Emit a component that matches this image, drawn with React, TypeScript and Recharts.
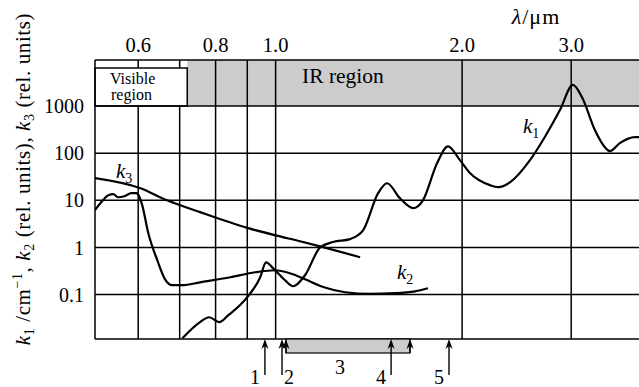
import React from "react";
import {
  LineChart,
  Line,
  XAxis,
  YAxis,
  ReferenceLine,
  ReferenceArea,
} from "recharts";

// wavelength axis (µm), log scale
const lambdaTicks = [0.6, 0.8, 1.0, 2.0, 3.0];
const lambdaGridFull = [0.8, 0.9, 1.0, 2.0, 3.0];
const lambdaGridCut = [0.6, 0.7];
const kTicks = [0.1, 1, 10, 100, 1000];

const visibleEdge = 0.72;
const visibleBoxTop = 6400;

// k1
const k1Lambda = [
  0.707, 0.755, 0.781, 0.811, 0.838, 0.9, 0.944, 0.965, 0.991, 1.036, 1.067,
  1.116, 1.18, 1.238, 1.319, 1.384, 1.463, 1.513, 1.588, 1.667, 1.729, 1.822,
  1.898, 1.984, 2.059, 2.218, 2.285, 2.389, 2.574, 2.72, 2.877, 3.019, 3.122,
  3.276, 3.4, 3.464, 3.594, 3.8, 3.86,
];
const k1Values = [
  0.0118, 0.026, 0.033, 0.026, 0.036, 0.088, 0.23, 0.48, 0.36, 0.2, 0.15, 0.26,
  1.0, 1.3, 1.5, 2.3, 14, 23, 11, 6.8, 10, 61, 140, 71, 38, 21, 19, 24, 71, 220,
  820, 2800, 1550, 310, 134, 110, 163, 219, 219,
];

// k2
const k2Lambda = [
  0.511, 0.523, 0.537, 0.547, 0.557, 0.57, 0.585, 0.596, 0.602, 0.609, 0.623,
  0.644, 0.663, 0.681, 0.707, 0.755, 0.845, 0.927, 1.0, 1.055, 1.116, 1.197,
  1.295, 1.42, 1.559, 1.679, 1.762,
];
const k2Values = [
  6.2, 9.1, 12.8, 13.5, 11.6, 12.2, 14.2, 14.2, 12.2, 7.9, 2.0, 0.54, 0.21,
  0.158, 0.158, 0.182, 0.233, 0.297, 0.328, 0.283, 0.211, 0.143, 0.112, 0.104,
  0.107, 0.117, 0.136,
];

// k3
const k3Lambda = [0.511, 0.605, 0.668, 0.755, 0.9, 1.0, 1.095, 1.197, 1.369];
const k3Values = [29.5, 18, 10, 5.6, 2.6, 1.8, 1.35, 1.0, 0.62];

// marked wavelengths below the frame
const arrowLambdas = [0.961, 1.024, 1.536, 1.905];
const arrowLabels = ["1", "2", "4", "5"];
const band3 = [1.039, 1.648];

const X_DOMAIN = [0.511, 3.86];
const Y_DOMAIN = [0.0114, 9480];
const FONT = '"Liberation Serif", "DejaVu Serif", serif';

const toPoints = (xs: number[], ys: number[]) =>
  xs.map((x, i) => ({ x, y: ys[i] }));

const k1Data = toPoints(k1Lambda, k1Values);
const k2Data = toPoints(k2Lambda, k2Values);
const k3Data = toPoints(k3Lambda, k3Values);

const PLOT = { left: 95, right: 639, top: 60, bottom: 339 };
const xPx = (l: number) =>
  PLOT.left +
  ((Math.log10(l) - Math.log10(X_DOMAIN[0])) /
    (Math.log10(X_DOMAIN[1]) - Math.log10(X_DOMAIN[0]))) *
    (PLOT.right - PLOT.left);

const Arrow = ({ x, y1, y2 }: { x: number; y1: number; y2: number }) => (
  <g>
    <line x1={x} y1={y1 + 4} x2={x} y2={y2} stroke="#000" strokeWidth={1.4} />
    <path
      d={`M${x},${y1} L${x - 3.5},${y1 + 10} L${x},${y1 + 7} L${x + 3.5},${y1 + 10} Z`}
      fill="#000"
    />
  </g>
);

const KLabel = ({ x, y, n }: { x: number; y: number; n: string }) => (
  <text x={x} y={y} fontSize={21} fill="#000">
    <tspan fontStyle="italic">k</tspan>
    <tspan fontSize={14} dy={5}>
      {n}
    </tspan>
  </text>
);

export default function App() {
  const axisStroke = { stroke: "#000", strokeWidth: 1.5 };

  return (
    <div style={{ position: "relative", width: 639, height: 387, background: "#fff" }}>
      <style>{`body{margin:0} svg text, svg tspan{font-family:${FONT} !important}`}</style>
      <LineChart
        width={639}
        height={387}
        margin={{ top: 0, right: 0, bottom: 48, left: 0 }}
        style={{ position: "absolute", left: 0, top: 0 }}
      >
        <XAxis
          type="number"
          dataKey="x"
          scale="log"
          domain={X_DOMAIN}
          allowDataOverflow
          orientation="top"
          height={60}
          ticks={lambdaTicks}
          tickFormatter={(v: number) => v.toFixed(1)}
          tickLine={false}
          tickSize={0}
          tickMargin={8}
          axisLine={axisStroke}
          tick={{ fontSize: 20.5, fill: "#000" }}
        />
        <YAxis
          type="number"
          dataKey="y"
          scale="log"
          domain={Y_DOMAIN}
          allowDataOverflow
          width={95}
          ticks={kTicks}
          tickFormatter={(v: number) => String(v)}
          tickLine={false}
          tickSize={0}
          tickMargin={11}
          axisLine={axisStroke}
          tick={{ fontSize: 20, fill: "#000" }}
        />
        <ReferenceArea
          x1={visibleEdge}
          x2={X_DOMAIN[1]}
          y1={1000}
          y2={Y_DOMAIN[1]}
          fill="#cccccc"
          fillOpacity={1}
          stroke="none"
        />
        <ReferenceArea
          x1={X_DOMAIN[0]}
          x2={visibleEdge}
          y1={1000}
          y2={visibleBoxTop}
          fill="#fff"
          fillOpacity={1}
          stroke="#000"
          strokeWidth={1.5}
        />
        {kTicks.map((v) => (
          <ReferenceLine key={`h${v}`} y={v} stroke="#000" strokeWidth={1.5} />
        ))}
        <ReferenceLine y={Y_DOMAIN[0]} stroke="#000" strokeWidth={1.5} />
        {lambdaGridFull.map((v) => (
          <ReferenceLine key={`v${v}`} x={v} stroke="#000" strokeWidth={1.5} />
        ))}
        {lambdaGridCut.map((v) => (
          <ReferenceLine
            key={`vl${v}`}
            segment={[
              { x: v, y: Y_DOMAIN[0] },
              { x: v, y: 1000 },
            ]}
            stroke="#000"
            strokeWidth={1.5}
          />
        ))}
        {lambdaGridCut.map((v) => (
          <ReferenceLine
            key={`vu${v}`}
            segment={[
              { x: v, y: visibleBoxTop },
              { x: v, y: Y_DOMAIN[1] },
            ]}
            stroke="#000"
            strokeWidth={1.5}
          />
        ))}
        <Line
          data={k3Data}
          dataKey="y"
          type="monotone"
          stroke="#000"
          strokeWidth={2.2}
          dot={false}
          isAnimationActive={false}
        />
        <Line
          data={k2Data}
          dataKey="y"
          type="monotone"
          stroke="#000"
          strokeWidth={2.2}
          dot={false}
          isAnimationActive={false}
        />
        <Line
          data={k1Data}
          dataKey="y"
          type="monotone"
          stroke="#000"
          strokeWidth={2.2}
          dot={false}
          isAnimationActive={false}
        />
      </LineChart>
      <svg
        width={639}
        height={387}
        style={{ position: "absolute", left: 0, top: 0, pointerEvents: "none" }}
      >
        <text x={110} y={84} fontSize={16} fill="#000">
          Visible
        </text>
        <text x={111} y={99.5} fontSize={16} fill="#000">
          region
        </text>
        <text x={302} y={83} fontSize={21.5} fill="#000">
          IR region
        </text>
        <text x={536} y={24} fontSize={22} letterSpacing={1} fill="#000" textAnchor="middle">
          <tspan fontStyle="italic">λ</tspan>/μm
        </text>
        <text
          transform="rotate(-90)"
          x={-179}
          y={30}
          fontSize={21}
          letterSpacing={0.6}
          fill="#000"
          textAnchor="middle"
        >
          <tspan fontStyle="italic">k</tspan>
          <tspan fontSize={14} dy={4}>1</tspan>
          <tspan dy={-4}> /cm</tspan>
          <tspan fontSize={14} dy={-8}>−1</tspan>
          <tspan dy={8}>, </tspan>
          <tspan fontStyle="italic">k</tspan>
          <tspan fontSize={14} dy={4}>2</tspan>
          <tspan dy={-4}> (rel. units), </tspan>
          <tspan fontStyle="italic">k</tspan>
          <tspan fontSize={14} dy={4}>3</tspan>
          <tspan dy={-4}> (rel. units)</tspan>
        </text>
        <KLabel x={116} y={178} n="3" />
        <KLabel x={523} y={133} n="1" />
        <KLabel x={397} y={279} n="2" />
        <rect
          x={xPx(band3[0])}
          y={PLOT.bottom}
          width={xPx(band3[1]) - xPx(band3[0])}
          height={14}
          fill="#cccccc"
          stroke="#000"
          strokeWidth={1.2}
        />
        <Arrow x={xPx(band3[0])} y1={PLOT.bottom} y2={PLOT.bottom + 14} />
        <Arrow x={xPx(band3[1])} y1={PLOT.bottom} y2={PLOT.bottom + 14} />
        {arrowLambdas.map((l) => (
          <Arrow key={l} x={xPx(l)} y1={PLOT.bottom} y2={375} />
        ))}
        {arrowLambdas.map((l, i) => (
          <text
            key={`t${l}`}
            x={xPx(l) + (i === 1 ? 7 : -10)}
            y={384}
            fontSize={20}
            fill="#000"
            textAnchor="middle"
          >
            {arrowLabels[i]}
          </text>
        ))}
        <text x={340} y={374} fontSize={20} fill="#000" textAnchor="middle">
          3
        </text>
      </svg>
    </div>
  );
}
